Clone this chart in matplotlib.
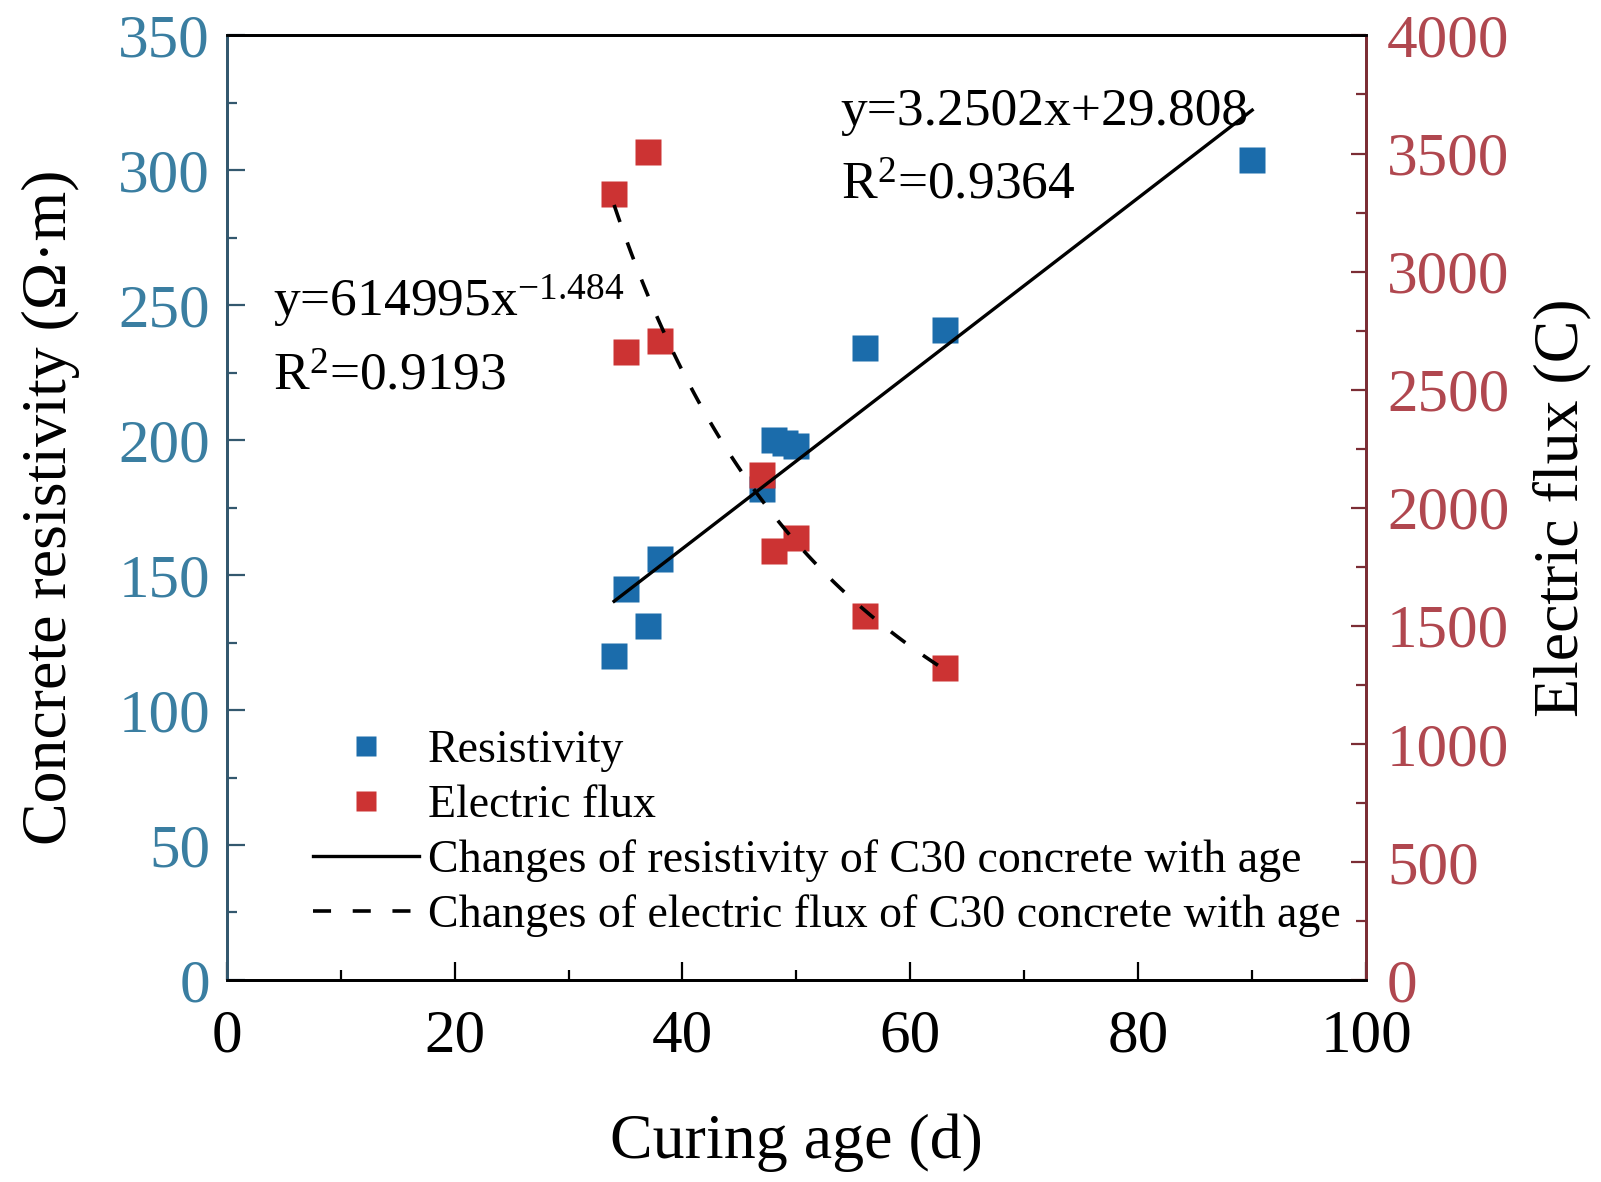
import matplotlib

matplotlib.use("Agg")
import matplotlib.pyplot as plt
import numpy as np
from matplotlib.ticker import MultipleLocator

plt.rcParams["font.family"] = ["Liberation Serif", "DejaVu Serif"]
plt.rcParams["mathtext.fontset"] = "custom"
plt.rcParams["mathtext.rm"] = "Liberation Serif"
plt.rcParams["mathtext.it"] = "Liberation Serif:italic"

AGE_RES = [34, 35, 37, 38, 47, 48, 49, 50, 56, 63, 90]
RESISTIVITY = [120, 145, 131, 156, 182, 200, 199, 198, 234, 241, 304]

AGE_FLUX = [34, 37, 35, 38, 47, 48, 50, 56, 63]
FLUX = [3330, 3505, 2660, 2705, 2140, 1815, 1870, 1540, 1320]

# Fits as printed on the chart
LIN_A, LIN_B = 3.2502, 29.808
LIN_RANGE = (34, 90)
POW_A, POW_B = 614995, -1.484
POW_RANGE = (34, 63)

BLUE = "#1b6cab"
RED = "#cc3333"
LEFT_TXT = "#3a7ea1"
RIGHT_TXT = "#b0474f"
LEFT_SPINE = "#33586e"
RIGHT_SPINE = "#7b2d35"

fig = plt.figure(figsize=(16.01, 11.82), dpi=100)
ax = fig.add_axes([0.1416, 0.171, 0.7117, 0.799])
ax2 = ax.twinx()

(h_res,) = ax.plot(AGE_RES, RESISTIVITY, "s", color=BLUE, ms=19, mec="none",
                   label="Resistivity")
(h_flux,) = ax2.plot(AGE_FLUX, FLUX, "s", color=RED, ms=19, mec="none",
                     label="Electric flux")

# fit lines drawn on the top axes so they sit above both marker sets
x_lin = np.linspace(*LIN_RANGE, 50)
(h_lin,) = ax2.plot(x_lin, LIN_A * x_lin + LIN_B, color="black", lw=2.4,
                    transform=ax.transData,
                    label="Changes of resistivity of C30 concrete with age")
x_pow = np.linspace(*POW_RANGE, 100)
(h_pow,) = ax2.plot(x_pow, POW_A * x_pow ** POW_B, color="black", lw=2.6,
                    dashes=(5, 6),
                    label="Changes of electric flux of C30 concrete with age")

ax.set_xlim(0, 100)
ax.set_ylim(0, 350)
ax2.set_ylim(0, 4000)

ax.xaxis.set_major_locator(MultipleLocator(20))
ax.xaxis.set_minor_locator(MultipleLocator(10))
ax.yaxis.set_major_locator(MultipleLocator(50))
ax.yaxis.set_minor_locator(MultipleLocator(25))
ax2.yaxis.set_major_locator(MultipleLocator(500))
ax2.yaxis.set_minor_locator(MultipleLocator(250))

ax.tick_params(axis="x", which="both", direction="in", top=False, width=1.6,
               labelsize=44, pad=21)
ax.tick_params(axis="x", which="major", length=13)
ax.tick_params(axis="x", which="minor", length=7)
ax.tick_params(axis="y", which="both", direction="in", width=1.6,
               color=LEFT_SPINE, labelcolor=LEFT_TXT, labelsize=44, pad=12)
ax.tick_params(axis="y", which="major", length=13)
ax.tick_params(axis="y", which="minor", length=7)
ax2.tick_params(axis="y", which="both", direction="in", width=1.6,
                color=RIGHT_SPINE, labelcolor=RIGHT_TXT, labelsize=44, pad=15)
ax2.tick_params(axis="y", which="major", length=11)
ax2.tick_params(axis="y", which="minor", length=7)

for a in (ax, ax2):
    for s in a.spines.values():
        s.set_linewidth(2.0)
    a.spines["left"].set_color(LEFT_SPINE)
    a.spines["right"].set_color(RIGHT_SPINE)

ax.set_xlabel("Curing age (d)", fontsize=46)
ax.set_ylabel("Concrete resistivity (Ω·m)", fontsize=46)
ax2.set_ylabel("Electric flux (C)", fontsize=46, rotation=90)
ax.xaxis.label.set_va("center")
ax.yaxis.label.set_va("center")
ax2.yaxis.label.set_va("center")
ax.xaxis.set_label_coords(0.5, -0.172)
ax.yaxis.set_label_coords(-0.154, 0.5)
ax2.yaxis.set_label_coords(1.172, 0.5)

# Fit equations
ax2.text(4.1, 246, r"y=614995x$^{-1.484}$", fontsize=38.5, transform=ax.transData)
ax2.text(4.1, 218.5, r"R$^{2}$=0.9193", fontsize=38.5, transform=ax.transData)
ax2.text(53.9, 317, "y=3.2502x+29.808", fontsize=38.5, transform=ax.transData)
ax2.text(53.9, 289.5, r"R$^{2}$=0.9364", fontsize=38.5, transform=ax.transData)

ax2.legend(handles=[h_res, h_flux, h_lin, h_pow], loc="upper left",
           bbox_to_anchor=(0.076, 0.265), frameon=False, fontsize=33,
           handlelength=2.3, handletextpad=0.2, labelspacing=0.27,
           borderpad=0, borderaxespad=0, markerscale=0.75)

fig.savefig("out.png", dpi=100)
